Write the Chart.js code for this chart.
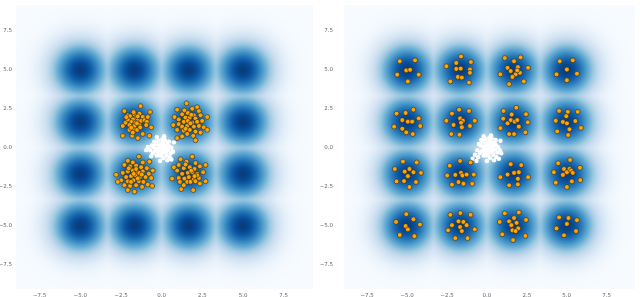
<!DOCTYPE html>
<html>
<head>
<meta charset="utf-8">
<script src="https://cdn.jsdelivr.net/npm/chart.js@4.4.1/dist/chart.umd.min.js"></script>
<style>
  body { margin: 0; background: #fff; }
  #wrap { position: relative; width: 640px; height: 297px; overflow: hidden; }
  canvas { position: absolute; top: 0; }
  #left { left: 0; }
  #right { left: 320px; }
</style>
</head>
<body>
<div id="wrap">
  <canvas id="left" width="320" height="297"></canvas>
  <canvas id="right" width="320" height="297"></canvas>
</div>
<script>
// axis ranges and ticks
const xRange = [-8.95, 9.3];
const yRange = [-9.07, 9.2];
const tickValues = [-7.5, -5, -2.5, 0, 2.5, 5, 7.5];

// centres of the 4x4 target density
const blobX = [-5, -1.67, 1.67, 5];
const blobY = [-5, -1.67, 1.67, 5];
const blobK = 3.3;

// left panel: orange samples, offsets around the four inner modes
const leftCenters = [[-1.67, 1.67], [1.67, 1.67], [-1.67, -1.67], [1.67, -1.67]];
const leftUL = [
  [0.37, 1.01], [0.96, 0.63], [-0.62, 0.69], [-0.41, 0.42], [-0.27, 0.36], [0, 0.48], [0.31, 0.52],
  [0.51, 0.31], [0.10, 0.27], [-0.10, 0.15], [0.21, 0.10], [-0.21, 0], [0.06, -0.06], [0.41, 0.06],
  [0.62, 0.10], [0.76, 0], [-0.55, -0.06], [-0.72, -0.27], [-0.31, -0.21], [0, -0.27], [0.31, -0.21],
  [0.72, -0.21], [1.03, -0.36], [-0.06, -0.52], [0.16, -0.52], [-0.31, -0.52], [-0.72, -0.90],
  [-0.14, -0.90], [0.21, -1.05], [0.51, -0.78], [0.92, -0.90], [-0.41, 0.15], [0.35, -0.36],
  [-0.10, -0.69], [0.82, 0.31], [-0.05, 0.62], [0.2, 0.35], [-0.5, 0.3], [0.15, -0.1], [-0.2, -0.38]
];
const leftUR = [
  [-0.14, 1.19], [-0.72, 0.78], [-0.27, 0.73], [0.21, 0.84], [0.51, 0.94], [0.62, 0.69], [-0.06, 0.57],
  [-0.41, 0.48], [0.31, 0.42], [0.72, 0.42], [1.13, 0.31], [-0.88, 0.31], [-0.62, 0.15], [-0.21, 0.27],
  [0.06, 0.27], [0.41, 0.21], [-0.31, 0], [-0.06, 0.06], [0.21, -0.06], [0.51, 0], [0.82, 0.06],
  [-0.96, -0.21], [-0.62, -0.15], [-0.41, -0.31], [-0.10, -0.27], [0.31, -0.31], [0.62, -0.27],
  [0.92, -0.36], [-0.72, -0.52], [-0.31, -0.57], [0.06, -0.52], [0.41, -0.63], [1.13, -0.52],
  [-0.10, -0.78], [0.27, -0.90], [-0.41, -0.94], [-0.72, -1.05], [0.41, -1.19], [0.72, -0.69],
  [0.10, -0.10], [0.15, 0.45], [-0.2, -0.45]
];
const leftLL = [
  [0.27, 1.11], [-0.41, 0.84], [-0.10, 0.73], [0.51, 0.73], [0.92, 0.78], [-0.62, 0.57], [-0.27, 0.48],
  [0.10, 0.52], [0.41, 0.42], [0.76, 0.36], [1.13, 0.21], [-1.13, -0.06], [-0.72, 0.06], [-0.41, 0.15],
  [-0.10, 0.21], [0.21, 0.10], [0.51, 0.15], [0.88, 0], [-0.51, -0.21], [-0.21, -0.15], [0.06, -0.10],
  [0.35, -0.21], [0.68, -0.21], [1.03, -0.27], [-0.82, -0.42], [-0.41, -0.48], [-0.06, -0.42],
  [0.27, -0.48], [0.55, -0.52], [-0.62, -0.73], [-0.27, -0.78], [0.10, -0.73], [0.47, -0.84],
  [0.82, -0.69], [-1.03, -0.52], [0, -1.15], [-0.41, -1.05], [1.09, -0.78], [0.10, 0.31], [-0.21, -0.52],
  [0.3, 0.05], [-0.35, 0.35], [0.2, -0.3], [-0.05, 0], [0.45, -0.05]
];
const leftLR = [
  [0.21, 1.11], [-0.51, 0.94], [-0.14, 0.78], [0.41, 0.69], [-0.62, 0.57], [-0.31, 0.36], [0.06, 0.42],
  [0.35, 0.31], [0.68, 0.48], [1.03, 0.57], [-0.72, 0.21], [-0.41, 0], [-0.06, 0.06], [0.21, 0.10],
  [0.51, 0], [0.88, 0.10], [-1.03, -0.31], [-0.62, -0.27], [-0.27, -0.31], [0, -0.21], [0.31, -0.36],
  [0.62, -0.27], [1.03, -0.48], [-0.55, -0.52], [-0.10, -0.52], [0.10, -0.52], [0.41, -0.48],
  [0.68, -0.63], [-0.47, -0.99], [0.27, -1.05], [-0.31, -0.73], [0.51, -0.10], [-0.92, 0.42],
  [0.15, 0.2], [-0.2, 0.6], [0.35, -0.15]
];

// right panel: orange samples, 4 rows of modes from top to bottom
const rightPoints = [
  [-5.46, 5.56], [-4.50, 5.62], [-5.05, 4.97], [-4.81, 5.01], [-5.62, 4.70], [-4.27, 4.70], [-4.95, 4.26],
  [-1.62, 5.87], [-2.54, 5.24], [-1.92, 5.45], [-1.00, 5.51], [-1.92, 5.07], [-1.64, 5.09], [-1.06, 5.03],
  [-1.06, 4.82], [-1.82, 4.55], [-1.57, 4.51], [-2.29, 4.26], [-1.12, 4.19],
  [1.12, 5.77], [2.11, 5.81], [1.29, 5.14], [1.70, 5.56], [1.94, 5.18], [1.49, 4.93], [1.80, 4.72],
  [2.07, 4.82], [0.84, 4.72], [1.60, 4.55], [2.31, 4.26], [1.39, 4.09], [2.58, 5.14], [1.90, 4.97],
  [4.56, 5.56], [5.38, 5.62], [5.01, 5.03], [4.36, 4.72], [5.64, 4.76], [5.01, 4.34],

  [-5.66, 2.20], [-5.09, 2.24], [-4.60, 2.45], [-4.27, 1.89], [-4.95, 1.68], [-4.68, 1.68], [-5.30, 1.78],
  [-5.81, 1.36], [-5.30, 1.22], [-5.05, 0.99], [-4.64, 0.88], [-4.17, 1.40],
  [-2.19, 2.20], [-1.74, 2.45], [-1.12, 2.37], [-2.54, 1.74], [-1.68, 1.89], [-1.51, 1.74], [-1.62, 1.61],
  [-0.76, 1.74], [-2.09, 1.47], [-1.57, 1.32], [-1.06, 1.40], [-2.23, 0.88], [-1.72, 0.84],
  [1.04, 2.37], [1.84, 2.58], [2.45, 2.16], [1.55, 2.14], [1.02, 1.87], [1.49, 1.78], [1.74, 1.68],
  [1.90, 1.78], [2.56, 1.64], [1.29, 1.57], [2.00, 1.36], [0.84, 1.26], [1.39, 0.88], [1.70, 0.88], [2.41, 0.99],
  [4.52, 2.37], [5.07, 2.31], [5.69, 2.31], [4.97, 2.03], [4.31, 1.74], [4.76, 1.66], [5.01, 1.57],
  [5.54, 1.72], [4.40, 1.05], [5.17, 1.19], [5.89, 1.28], [5.09, 0.82],

  [-5.26, -0.88], [-4.40, -0.94], [-5.77, -1.36], [-5.15, -1.53], [-4.85, -1.36], [-4.60, -1.57],
  [-4.13, -1.61], [-4.95, -1.82], [-5.66, -2.16], [-5.19, -2.14], [-4.44, -2.20], [-4.85, -2.52],
  [-2.33, -1.15], [-1.68, -0.84], [-1.02, -0.94], [-2.49, -1.78], [-1.98, -1.74], [-1.62, -1.61],
  [-1.53, -1.78], [-1.27, -1.72], [-0.82, -1.72], [-1.78, -2.20], [-1.47, -2.31], [-2.19, -2.37], [-0.92, -2.31],
  [1.49, -1.05], [2.15, -1.11], [0.84, -1.89], [1.29, -1.72], [1.70, -1.61], [2.00, -1.57], [1.94, -1.99],
  [2.58, -1.89], [1.39, -2.41], [1.94, -2.35],
  [5.21, -0.78], [4.46, -0.99], [5.83, -1.28], [4.83, -1.36], [5.17, -1.36], [5.01, -1.57], [5.28, -1.47],
  [4.19, -1.57], [4.76, -1.74], [5.38, -1.61], [4.31, -2.24], [5.01, -2.52], [5.32, -2.16], [5.85, -2.08],

  [-5.05, -4.26], [-4.60, -4.59], [-5.69, -4.76], [-5.09, -5.03], [-4.19, -4.93], [-4.95, -5.24],
  [-5.46, -5.60], [-4.54, -5.68],
  [-2.29, -4.30], [-1.66, -4.19], [-1.02, -4.30], [-1.78, -4.72], [-1.47, -4.76], [-2.19, -4.97],
  [-1.68, -5.09], [-1.27, -4.97], [-0.76, -5.24], [-2.43, -5.30], [-1.57, -5.35], [-1.98, -5.81], [-1.21, -5.81],
  [1.12, -4.21], [2.00, -4.15], [0.80, -4.76], [1.39, -4.72], [1.70, -4.51], [1.86, -4.82], [2.45, -4.63],
  [1.53, -4.97], [1.96, -5.18], [1.60, -5.30], [0.96, -5.56], [2.41, -5.66], [1.64, -5.93], [1.80, -5.35],
  [4.52, -4.47], [5.11, -4.51], [5.64, -4.65], [4.36, -5.18], [5.01, -4.89], [5.58, -5.35], [4.83, -5.62]
];

// white samples near the origin
const leftWhite = [
  [0, 0], [0.1, 0.1], [-0.1, 0.05], [0.2, -0.05], [-0.2, -0.1], [0.05, -0.2], [0.15, 0.25], [-0.15, 0.2],
  [0.3, 0.1], [-0.3, 0], [0.25, -0.25], [-0.25, -0.25], [0, 0.3], [0, -0.35], [0.35, 0.3], [-0.35, 0.3],
  [0.4, -0.1], [-0.4, -0.15], [0.1, 0.45], [-0.1, -0.45], [0.45, 0.15], [-0.5, 0.1], [0.3, -0.45],
  [-0.3, -0.45], [0.2, 0.55], [-0.2, 0.5], [0.55, -0.3], [-0.55, -0.3], [0.6, 0.05], [-0.6, 0.2],
  [0.05, 0.6], [0.1, -0.6], [-0.45, 0.45], [0.45, 0.45], [0.5, -0.55], [-0.7, -0.1], [0.7, -0.2],
  [-0.85, 0.1], [-0.95, -0.1], [0.15, 0.8], [-0.3, 0.75], [0.35, -0.75], [-0.1, -0.8], [0.75, 0.4],
  [-0.65, -0.5], [0.6, -0.7], [0.2, 0.15], [-0.05, 0.15], [0.12, -0.12], [-0.18, -0.3]
];
const rightWhite = [
  [0.1, 0.05], [0.2, 0.15], [0, 0.1], [0.3, -0.05], [-0.1, -0.1], [0.15, -0.2], [0.25, 0.3], [-0.05, 0.25],
  [0.4, 0.1], [-0.2, 0.05], [0.35, -0.25], [-0.15, -0.3], [0.1, 0.35], [0.1, -0.4], [0.45, 0.35],
  [-0.25, 0.35], [0.5, -0.1], [-0.3, -0.2], [0.2, 0.5], [0, -0.5], [0.55, 0.2], [-0.4, 0.15], [0.4, -0.45],
  [-0.2, -0.5], [0.3, 0.6], [-0.1, 0.55], [0.65, -0.3], [-0.45, -0.35], [0.7, 0.05], [-0.5, 0.25],
  [0.15, 0.65], [0.2, -0.65], [-0.35, 0.5], [0.55, 0.5], [0.6, -0.6], [-0.6, -0.15], [0.8, -0.15],
  [-0.75, -0.45], [-0.9, -0.7], [0.25, 0.8], [-0.2, 0.75], [0.45, -0.8], [0, -0.85], [0.85, 0.45],
  [-0.55, -0.6], [0.75, -0.7], [0.9, -0.35], [-0.65, -0.85], [0.05, -0.2], [0.3, 0.2]
];

const bluesStops = ['#f7fbff', '#deebf7', '#c6dbef', '#9ecae1', '#6baed6', '#4292c6', '#2171b5', '#08519c', '#08306b'];

function hexToRgb(h) {
  return [parseInt(h.slice(1, 3), 16), parseInt(h.slice(3, 5), 16), parseInt(h.slice(5, 7), 16)];
}
const bluesRgb = bluesStops.map(hexToRgb);

function blues(t) {
  const p = Math.max(0, Math.min(1, t)) * (bluesRgb.length - 1);
  const i = Math.min(bluesRgb.length - 2, Math.floor(p));
  const f = p - i;
  const a = bluesRgb[i], b = bluesRgb[i + 1];
  return [a[0] + (b[0] - a[0]) * f, a[1] + (b[1] - a[1]) * f, a[2] + (b[2] - a[2]) * f];
}

function density(vx, vy) {
  let f = 0;
  for (const bx of blobX) {
    for (const by of blobY) {
      const d2 = (vx - bx) * (vx - bx) + (vy - by) * (vy - by);
      f += Math.exp(-blobK * d2);
    }
  }
  return f;
}

// paints the density under the points, pixel by pixel through the scales
const heatPlugin = {
  id: 'heat',
  beforeDatasetsDraw(chart) {
    const { ctx, chartArea: a, scales: { x, y } } = chart;
    const w = Math.round(a.right - a.left), h = Math.round(a.bottom - a.top);
    const off = document.createElement('canvas');
    off.width = w; off.height = h;
    const octx = off.getContext('2d');
    const img = octx.createImageData(w, h);
    for (let j = 0; j < h; j++) {
      const vy = y.getValueForPixel(a.top + j + 0.5);
      for (let i = 0; i < w; i++) {
        const vx = x.getValueForPixel(a.left + i + 0.5);
        const t = 0.95 * Math.pow(density(vx, vy), 0.1);
        const c = blues(t);
        const k = (j * w + i) * 4;
        img.data[k] = c[0]; img.data[k + 1] = c[1]; img.data[k + 2] = c[2]; img.data[k + 3] = 255;
      }
    }
    octx.putImageData(img, 0, 0);
    ctx.drawImage(off, a.left, a.top);
  }
};

function fmt(v) {
  return v.toFixed(1).replace('-', '\u2212');
}

function toXY(list, cx, cy) {
  return list.map(p => ({ x: p[0] + (cx || 0), y: p[1] + (cy || 0) }));
}

function noPad(s) {
  s.paddingTop = 0; s.paddingBottom = 0; s.paddingLeft = 0; s.paddingRight = 0;
}

function makeChart(id, orange, white, yWidth, yPad, padRight) {
  const tickOpts = { font: { size: 5.5, family: 'DejaVu Sans' }, color: '#666', autoSkip: false, maxRotation: 0, callback: v => fmt(v) };
  new Chart(document.getElementById(id), {
    type: 'scatter',
    data: {
      datasets: [{
        data: orange,
        backgroundColor: '#ffa500',
        borderColor: '#2a2a2a',
        borderWidth: 0.6,
        pointRadius: 2.4
      }, {
        data: white,
        backgroundColor: '#ffffff',
        borderColor: '#ffffff',
        borderWidth: 0,
        pointRadius: 2.2
      }]
    },
    options: {
      responsive: false,
      animation: false,
      devicePixelRatio: 1,
      layout: { padding: { left: 0, right: padRight, top: 0, bottom: 0 } },
      plugins: { legend: { display: false }, tooltip: { enabled: false } },
      scales: {
        x: {
          type: 'linear', min: xRange[0], max: xRange[1],
          grid: { display: false, drawTicks: false }, border: { display: false },
          ticks: Object.assign({ padding: 3 }, tickOpts),
          afterBuildTicks: s => { s.ticks = tickValues.map(v => ({ value: v })); },
          afterFit: s => { s.height = 8; noPad(s); }
        },
        y: {
          type: 'linear', min: yRange[0], max: yRange[1],
          grid: { display: false, drawTicks: false }, border: { display: false },
          ticks: Object.assign({ padding: yPad }, tickOpts),
          afterBuildTicks: s => { s.ticks = tickValues.map(v => ({ value: v })); },
          afterFit: s => { s.width = yWidth; noPad(s); }
        }
      }
    },
    plugins: [heatPlugin]
  });
}

const leftOrange = []
  .concat(toXY(leftUL, leftCenters[0][0], leftCenters[0][1]))
  .concat(toXY(leftUR, leftCenters[1][0], leftCenters[1][1]))
  .concat(toXY(leftLL, leftCenters[2][0], leftCenters[2][1]))
  .concat(toXY(leftLR, leftCenters[3][0], leftCenters[3][1]));

makeChart('left', leftOrange, toXY(leftWhite, 0, -0.05), 16, 4, 7);
makeChart('right', toXY(rightPoints), toXY(rightWhite), 24, 11, 0);
</script>
</body>
</html>
